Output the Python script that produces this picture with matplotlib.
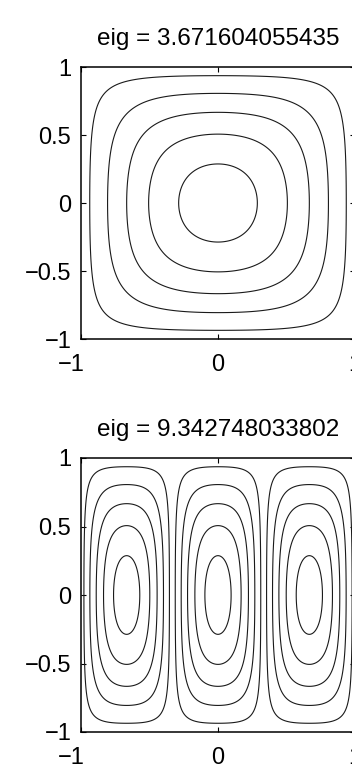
import numpy as np
import matplotlib
matplotlib.use("Agg")
import matplotlib.pyplot as plt
from matplotlib.transforms import ScaledTranslation

plt.rcParams['font.family'] = ['Liberation Sans', 'DejaVu Sans']
plt.rcParams['contour.negative_linestyle'] = 'solid'

# eigenvalues shown in the panel titles
eig_values = ["3.671604055435", "9.342748033802"]
# number of half-waves of each mode in x and y
mode_x = [1, 3]
mode_y = [1, 1]
levels_frac = [0.1, 0.3, 0.5, 0.7, 0.9]
# the modes are a little squarer than a plain cosine product near the corners
corner_flatten = 0.3

xtick_vals = [-1, 0, 1]
ytick_vals = [-1, -0.5, 0, 0.5, 1]

W, H = 352, 764
# axes boxes in pixels: left, top, width, height
boxes = [(81, 67, 274, 272), (81, 458, 274, 274)]

fig = plt.figure(figsize=(W / 100, H / 100), dpi=100)

x = np.linspace(-1, 1, 401)
X, Y = np.meshgrid(x, x)
levels = sorted([-l for l in levels_frac]) + levels_frac

for i in range(len(eig_values)):
    l, t, w, h = boxes[i]
    ax = fig.add_axes([l / W, (H - t - h) / H, w / W, h / H])

    kx = mode_x[i] * np.pi / 2
    ky = mode_y[i] * np.pi / 2
    u = np.cos(kx * X) * np.cos(ky * Y)
    u = u * (1 + corner_flatten * np.sin(kx * X) ** 2 * np.sin(ky * Y) ** 2)

    ax.contour(X, Y, u, levels=levels, colors='#1a1a1a', linewidths=0.8)

    ax.set_xlim(-1, 1)
    ax.set_ylim(-1, 1)
    ax.set_xticks(xtick_vals)
    ax.set_yticks(ytick_vals)
    ax.set_xticklabels(['\u22121', '0', '1'])
    ax.set_yticklabels(['\u22121', '\u22120.5', '0', '0.5', '1'])
    ax.tick_params(direction='in', top=True, right=True, length=3.5, width=0.8,
                   labelsize=17, color='black')
    ax.tick_params(axis='x', pad=11)
    ax.tick_params(axis='y', pad=7)
    # matlab puts the "-1" below the corner a bit to the left
    lab = ax.get_xticklabels()[0]
    lab.set_transform(lab.get_transform() + ScaledTranslation(-0.1, 0, fig.dpi_scale_trans))
    for s in ax.spines.values():
        s.set_linewidth(1.1)
    ax.set_title('eig = ' + eig_values[i], fontsize=17.5, pad=15.5)

fig.savefig('out.png', dpi=100)
